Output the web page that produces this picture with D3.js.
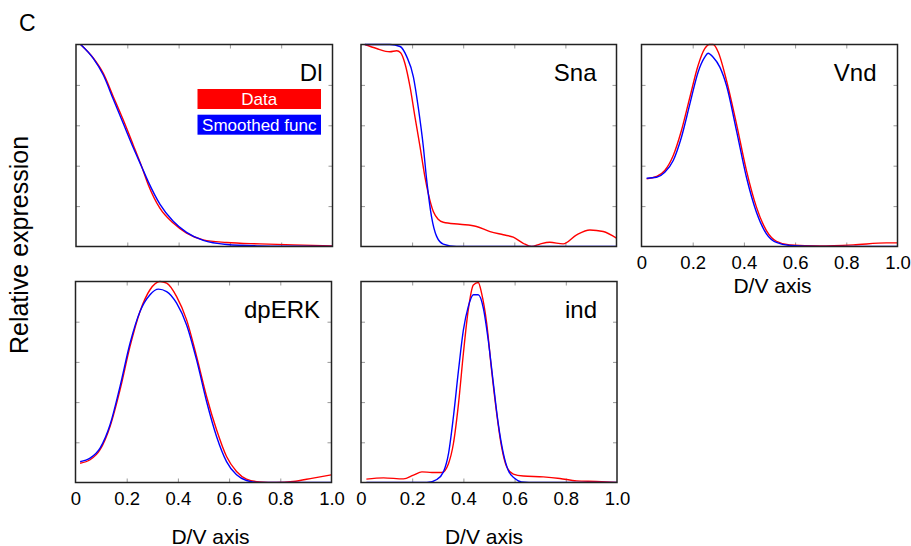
<!DOCTYPE html>
<html><head><meta charset="utf-8">
<script src="https://cdn.jsdelivr.net/npm/d3@7"></script>
<style>body{margin:0;background:#fff}svg{display:block}</style>
</head><body><svg id="c" width="911" height="546"></svg>
<script>
// ---------- data ----------
const panelNames = ["Dl", "Sna", "Vnd", "dpERK", "ind"];
const xTickValues = [0, 0.2, 0.4, 0.6, 0.8, 1.0];
const xTickLabels = ["0", "0.2", "0.4", "0.6", "0.8", "1.0"];
const yTickValues = [0.2, 0.4, 0.6, 0.8];
const legendLabels = ["Data", "Smoothed func"];
const axisTitleX = "D/V axis";
const axisTitleY = "Relative expression";
const panelLetter = "C";

const dlData = [[0.018,1.0],[0.068,0.932],[0.106,0.858],[0.145,0.743],[0.184,0.627],[0.223,0.503],[0.256,0.396],[0.282,0.305],[0.327,0.19],[0.379,0.116],[0.431,0.066],[0.496,0.033],[0.587,0.02],[0.717,0.013],[0.847,0.008],[1.0,0.003]];
const dlSmooth = [[0.018,1.0],[0.068,0.93],[0.106,0.85],[0.145,0.73],[0.184,0.61],[0.223,0.49],[0.256,0.395],[0.282,0.32],[0.327,0.21],[0.379,0.125],[0.431,0.07],[0.496,0.03],[0.587,0.01],[0.717,0.003],[0.847,0.001],[1.0,0.0]];

const snaData = [[0.015,1.0],[0.061,0.98],[0.113,0.964],[0.14,0.969],[0.155,0.959],[0.172,0.906],[0.192,0.79],[0.211,0.643],[0.231,0.494],[0.25,0.346],[0.263,0.264],[0.283,0.173],[0.302,0.135],[0.322,0.12],[0.387,0.11],[0.452,0.099],[0.505,0.074],[0.557,0.058],[0.596,0.046],[0.635,0.016],[0.668,0.0],[0.7,0.012],[0.739,0.021],[0.791,0.013],[0.844,0.058],[0.896,0.082],[0.948,0.074],[1.0,0.041]];
const snaSmooth = [[0.015,1.0],[0.113,1.0],[0.153,0.99],[0.179,0.94],[0.205,0.84],[0.224,0.69],[0.244,0.494],[0.257,0.33],[0.276,0.148],[0.296,0.05],[0.322,0.012],[0.374,0.0],[0.6,0.0],[1.0,0.0]];

const vndData = [[0.02,0.335],[0.059,0.347],[0.091,0.376],[0.124,0.45],[0.156,0.574],[0.189,0.739],[0.221,0.896],[0.247,0.979],[0.265,1.0],[0.28,1.0],[0.3,0.962],[0.332,0.822],[0.371,0.607],[0.41,0.376],[0.449,0.195],[0.488,0.079],[0.527,0.026],[0.579,0.008],[0.697,0.003],[0.827,0.008],[0.957,0.018],[1.0,0.018]];
const vndSmooth = [[0.02,0.338],[0.059,0.343],[0.091,0.368],[0.124,0.426],[0.156,0.541],[0.189,0.706],[0.221,0.863],[0.247,0.937],[0.26,0.957],[0.28,0.937],[0.306,0.888],[0.332,0.797],[0.371,0.574],[0.41,0.343],[0.449,0.17],[0.488,0.063],[0.527,0.02],[0.579,0.005],[0.697,0.0],[1.0,0.0]];

const dperkData = [[0.018,0.096],[0.057,0.113],[0.096,0.163],[0.135,0.279],[0.174,0.461],[0.213,0.677],[0.252,0.851],[0.291,0.959],[0.33,1.0],[0.356,0.992],[0.395,0.925],[0.434,0.809],[0.473,0.627],[0.512,0.428],[0.551,0.262],[0.59,0.129],[0.629,0.055],[0.668,0.017],[0.72,0.003],[0.785,0.0],[0.85,0.005],[0.928,0.022],[1.0,0.038]];
const dperkSmooth = [[0.018,0.104],[0.057,0.121],[0.096,0.171],[0.135,0.287],[0.174,0.478],[0.213,0.693],[0.252,0.851],[0.291,0.934],[0.324,0.962],[0.356,0.95],[0.395,0.892],[0.434,0.784],[0.473,0.61],[0.512,0.403],[0.551,0.229],[0.59,0.104],[0.629,0.038],[0.668,0.01],[0.72,0.0],[1.0,0.0]];

const indData = [[0.021,0.017],[0.088,0.023],[0.166,0.018],[0.205,0.037],[0.238,0.053],[0.277,0.05],[0.316,0.05],[0.342,0.095],[0.361,0.194],[0.381,0.394],[0.4,0.643],[0.419,0.859],[0.439,0.983],[0.458,0.995],[0.471,0.942],[0.491,0.792],[0.51,0.56],[0.53,0.344],[0.549,0.178],[0.569,0.078],[0.595,0.042],[0.634,0.032],[0.712,0.028],[0.777,0.02],[0.842,0.008],[0.919,0.005],[1.0,0.0]];
const indSmooth = [[0.021,0.0],[0.257,0.0],[0.296,0.015],[0.322,0.053],[0.342,0.145],[0.361,0.327],[0.381,0.56],[0.4,0.759],[0.419,0.875],[0.439,0.934],[0.458,0.934],[0.478,0.867],[0.497,0.709],[0.517,0.493],[0.536,0.294],[0.556,0.145],[0.575,0.061],[0.601,0.02],[0.627,0.003],[0.686,0.0],[1.0,0.0]];

const seriesData = [dlData, snaData, vndData, dperkData, indData];
const seriesSmooth = [dlSmooth, snaSmooth, vndSmooth, dperkSmooth, indSmooth];

// ---------- layout ----------
const layout = [
  {x: 76,    y: 44.5, w: 256.5, h: 202, showX: false, titleX: false, namePad: 10},
  {x: 361,   y: 44.5, w: 255.5, h: 202, showX: false, titleX: false, namePad: 20},
  {x: 641.5, y: 44.5, w: 256,   h: 202, showX: true,  titleX: true, titleDy: 46, titleShift: 3, namePad: 21},
  {x: 75.5,  y: 281.5, w: 256,  h: 201, showX: true,  titleX: true, titleDy: 61, titleShift: 7, namePad: 11.5},
  {x: 361,   y: 281.5, w: 256,  h: 201, showX: true,  titleX: true, titleDy: 61, titleShift: -5, namePad: 20}
];
const FONT = "'Liberation Sans', Arial, Helvetica, sans-serif";

const svg = d3.select("#c");
svg.append("rect").attr("width", 911).attr("height", 546).attr("fill", "#fff");

svg.append("text").text(panelLetter)
  .attr("x", 19).attr("y", 31).attr("font-family", FONT).attr("font-size", 23).attr("fill", "#000");

svg.append("text").text(axisTitleY)
  .attr("transform", "translate(28,245) rotate(-90)")
  .attr("text-anchor", "middle").attr("font-family", FONT).attr("font-size", 25).attr("fill", "#000");

layout.forEach((L, i) => {
  const g = svg.append("g").attr("transform", `translate(${L.x},${L.y})`);
  const x = d3.scaleLinear().domain([0, 1]).range([0, L.w]);
  const y = d3.scaleLinear().domain([0, 1]).range([L.h, 0]);
  const line = d3.line().x(d => x(d[0])).y(d => y(d[1])).curve(d3.curveMonotoneX);

  // inward ticks on all four sides
  const tickStroke = "#999", tl = 4;
  const innerX = xTickValues.filter(v => v > 0 && v < 1);
  g.append("g").attr("transform", `translate(0,${L.h})`)
    .call(d3.axisBottom(x).tickValues(innerX).tickSize(-tl).tickFormat(""))
    .call(a => { a.select(".domain").remove(); a.selectAll("line").attr("stroke", tickStroke); });
  g.append("g")
    .call(d3.axisTop(x).tickValues(innerX).tickSize(-tl).tickFormat(""))
    .call(a => { a.select(".domain").remove(); a.selectAll("line").attr("stroke", tickStroke); });
  g.append("g")
    .call(d3.axisLeft(y).tickValues(yTickValues).tickSize(-tl).tickFormat(""))
    .call(a => { a.select(".domain").remove(); a.selectAll("line").attr("stroke", tickStroke); });
  g.append("g").attr("transform", `translate(${L.w},0)`)
    .call(d3.axisRight(y).tickValues(yTickValues).tickSize(-tl).tickFormat(""))
    .call(a => { a.select(".domain").remove(); a.selectAll("line").attr("stroke", tickStroke); });

  const clipId = "clip" + i;
  g.append("clipPath").attr("id", clipId).append("rect")
    .attr("x", 0).attr("y", -2).attr("width", L.w).attr("height", L.h + 2);

  g.append("path").datum(seriesData[i]).attr("d", line)
    .attr("fill", "none").attr("stroke", "#ff0000").attr("stroke-width", 1.4)
    .attr("clip-path", `url(#${clipId})`);
  g.append("path").datum(seriesSmooth[i]).attr("d", line)
    .attr("fill", "none").attr("stroke", "#0000ff").attr("stroke-width", 1.4)
    .attr("clip-path", `url(#${clipId})`);

  g.append("rect").attr("width", L.w).attr("height", L.h)
    .attr("fill", "none").attr("stroke", "#222").attr("stroke-width", 1.5);

  g.append("text").text(panelNames[i])
    .attr("x", L.w - L.namePad).attr("y", 36).attr("text-anchor", "end")
    .attr("font-family", FONT).attr("font-size", 24).attr("fill", "#000");

  if (L.showX) {
    g.append("g").attr("transform", `translate(0,${L.h})`)
      .call(d3.axisBottom(x).tickValues(xTickValues).tickSize(0).tickPadding(0)
        .tickFormat((d, k) => xTickLabels[k]))
      .call(a => {
        a.select(".domain").remove();
        a.selectAll("text").attr("font-family", FONT).attr("font-size", 18.5)
          .attr("fill", "#000").attr("dy", null).attr("y", 22);
      });
  }
  if (L.titleX) {
    g.append("text").text(axisTitleX)
      .attr("x", L.w / 2 + L.titleShift).attr("y", L.h + L.titleDy).attr("text-anchor", "middle")
      .attr("font-family", FONT).attr("font-size", 21).attr("fill", "#000");
  }

  if (i === 0) {
    const colors = ["#ff0000", "#0000ff"];
    legendLabels.forEach((lab, k) => {
      const ly = 44.5 + k * 25.7;
      g.append("rect").attr("x", 121.5).attr("y", ly).attr("width", 123.5).attr("height", 20)
        .attr("fill", colors[k]);
      g.append("text").text(lab).attr("x", 121.5 + 123.5 / 2).attr("y", ly + 16)
        .attr("text-anchor", "middle").attr("font-family", FONT).attr("font-size", 17)
        .attr("fill", "#fff");
    });
  }
});
</script>
</body></html>
